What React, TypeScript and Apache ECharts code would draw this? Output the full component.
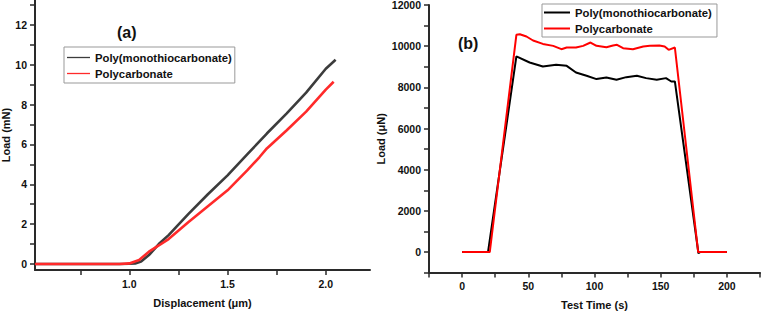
import React, { useEffect, useRef } from "react";
import * as echarts from "echarts";

// Panel (a): load–displacement curves, [displacement µm, load mN]
const dispPMTC: [number, number][] = [
  [0.52, 0], [0.95, 0], [1.0, 0.01], [1.03, 0.03], [1.06, 0.12], [1.1, 0.45],
  [1.15, 1.0], [1.2, 1.45], [1.3, 2.5], [1.4, 3.5], [1.5, 4.45], [1.6, 5.5],
  [1.7, 6.55], [1.8, 7.55], [1.9, 8.6], [2.0, 9.8], [2.05, 10.25],
];
const dispPC: [number, number][] = [
  [0.52, 0], [0.95, 0], [1.0, 0.03], [1.05, 0.2], [1.1, 0.62], [1.15, 0.93],
  [1.2, 1.25], [1.3, 2.1], [1.4, 2.9], [1.5, 3.7], [1.6, 4.7], [1.663, 5.37],
  [1.7, 5.8], [1.8, 6.7], [1.9, 7.65], [2.0, 8.75], [2.04, 9.15],
];

// Panel (b): load–time curves, [time s, load µN]
const timePMTC: [number, number][] = [
  [0, 0], [19.6, 0], [41, 9500], [51, 9207], [61, 9013], [71, 9094], [79, 9045],
  [86, 8720], [94, 8560], [101.5, 8400], [109, 8480], [116.6, 8365], [124, 8495],
  [132, 8560], [139, 8447], [147, 8365], [154, 8447], [158, 8285], [160.7, 8285],
  [178.5, -60], [180, 0], [200, 0],
];
const timePC: [number, number][] = [
  [0, 0], [20.9, 0], [41, 10550], [43.6, 10580], [48.6, 10470], [53.6, 10275],
  [61, 10110], [68.8, 10015], [75, 9854], [79, 9935], [86, 9935], [91.4, 10015],
  [97, 10178], [101.5, 10015], [109, 9951], [114, 10032], [117, 10065],
  [121.6, 9903], [129, 9854], [136.8, 9984], [141.8, 10015], [149, 10032],
  [153, 9984], [156, 9822], [160.7, 9935], [178.3, 0], [200, 0],
];

// Labelled tick values
const dispLabels = [1.0, 1.5, 2.0];
const loadMNLabels = [0, 2, 4, 6, 8, 10, 12];
const timeLabels = [0, 50, 100, 150, 200];
const loadUNLabels = [0, 2000, 4000, 6000, 8000, 10000, 12000];

const nameA = "Poly(monothiocarbonate)";
const nameB = "Polycarbonate";

const FONT = "'Liberation Sans', Arial, sans-serif";
const AXIS_COLOR = "#2a2a2a";
const TEXT_COLOR = "#111";

// panel (a) scale: pixels per unit on each axis
const PX_PER_UM = 196;
const PX_PER_MN = 19.92;
const A_LEFT = 35;
const A_ZERO_Y = 264;
const A_X1 = 130; // pixel column of 1.0 µm

const near = (list: number[], v: number) => list.some((x) => Math.abs(x - v) < 1e-6);

const tickStyle = { show: true, length: 5, lineStyle: { color: AXIS_COLOR, width: 1.5 } };

function axisBase() {
  return {
    axisLine: { show: true, onZero: false, lineStyle: { color: AXIS_COLOR, width: 2 } },
    splitLine: { show: false },
    axisTick: tickStyle,
    nameTextStyle: { fontFamily: FONT, fontWeight: "bold", fontSize: 11, color: TEXT_COLOR },
  };
}

// an axis that only draws its ticks (panel (a) scales start off-tick)
function tickOnlyAxis(gridIndex: number, min: number, max: number, interval: number) {
  return {
    gridIndex,
    type: "value",
    min,
    max,
    interval,
    axisLine: { show: false, onZero: false },
    axisLabel: { show: false },
    splitLine: { show: false },
    axisTick: tickStyle,
  };
}

function hiddenAxis(gridIndex: number) {
  return { gridIndex, type: "value", show: false, min: 0, max: 1 };
}

export default function App() {
  const ref = useRef<HTMLDivElement>(null);

  useEffect(() => {
    document.body.style.margin = "0";
    if (!ref.current) return;
    const chart = echarts.init(ref.current, undefined, { renderer: "svg" });

    const labelStyle = {
      fontFamily: FONT,
      fontWeight: "bold" as const,
      fontSize: 10.5,
      color: TEXT_COLOR,
      margin: 8,
    };
    const legendText = {
      fontFamily: FONT,
      fontWeight: "bold" as const,
      fontSize: 11.3,
      lineHeight: 10,
      color: TEXT_COLOR,
    };
    const fixedGrid = { outerBoundsMode: "none", containLabel: false };

    chart.setOption({
      animation: false,
      backgroundColor: "#fff",
      grid: [
        { ...fixedGrid, left: A_LEFT, top: 0, width: 335, height: 270 },
        { ...fixedGrid, left: 429, top: 5, width: 331, height: 267.6 },
        // tick helper for panel (a) y axis: 0..13 mN
        { ...fixedGrid, left: A_LEFT, top: A_ZERO_Y - 13 * PX_PER_MN, width: 335, height: 13 * PX_PER_MN },
        // tick helper for panel (a) x axis: 0.75..2.0 µm
        { ...fixedGrid, left: A_X1 - 0.25 * PX_PER_UM, top: 0, width: 1.25 * PX_PER_UM, height: 270 },
      ],
      legend: [
        {
          orient: "vertical",
          left: 64,
          top: 47,
          data: [nameA, nameB],
          icon: "rect",
          padding: [5, 3, 4, 3],
          itemGap: 5,
          itemWidth: 23,
          itemHeight: 1.3,
          borderColor: "#999",
          borderWidth: 1,
          textStyle: legendText,
          selectedMode: false,
        },
        {
          orient: "vertical",
          left: 542,
          top: 4,
          data: [nameA + " ", nameB + " "],
          icon: "rect",
          padding: [3, 2, 3, 2],
          itemGap: 5,
          itemWidth: 26,
          itemHeight: 2,
          borderColor: "#999",
          borderWidth: 1,
          textStyle: legendText,
          selectedMode: false,
        },
      ],
      xAxis: [
        {
          ...axisBase(),
          gridIndex: 0,
          type: "value",
          min: 0.52,
          max: 2.225,
          name: "Displacement (\u03bcm)",
          nameLocation: "middle",
          nameGap: 27,
          axisTick: { show: false },
          axisLabel: { ...labelStyle, customValues: dispLabels, formatter: (v: number) => v.toFixed(1) },
        },
        {
          ...axisBase(),
          gridIndex: 1,
          type: "value",
          min: -25,
          max: 225,
          interval: 25,
          name: "Test Time (s)",
          nameLocation: "middle",
          nameGap: 27,
          axisLabel: {
            ...labelStyle,
            formatter: (v: number) => (near(timeLabels, v) ? String(v) : ""),
          },
        },
        hiddenAxis(2),
        tickOnlyAxis(3, 0.75, 2.0, 0.25),
      ],
      yAxis: [
        {
          ...axisBase(),
          gridIndex: 0,
          type: "value",
          min: -(270 - A_ZERO_Y) / PX_PER_MN,
          max: A_ZERO_Y / PX_PER_MN,
          name: "Load (mN)",
          nameLocation: "middle",
          nameGap: 23,
          axisTick: { show: false },
          axisLabel: { ...labelStyle, customValues: loadMNLabels, formatter: (v: number) => String(v) },
        },
        {
          ...axisBase(),
          gridIndex: 1,
          type: "value",
          min: -1000,
          max: 12000,
          interval: 1000,
          name: "Load (\u03bcN)",
          nameLocation: "middle",
          nameGap: 43,
          axisLabel: {
            ...labelStyle,
            formatter: (v: number) => (near(loadUNLabels, v) ? String(v) : ""),
          },
        },
        tickOnlyAxis(2, 0, 13, 1),
        hiddenAxis(3),
      ],
      graphic: [
        {
          type: "text",
          left: 117,
          top: 24,
          style: { text: "(a)", font: `bold 16px ${FONT}`, fill: TEXT_COLOR },
        },
        {
          type: "text",
          left: 458,
          top: 35,
          style: { text: "(b)", font: `bold 16px ${FONT}`, fill: TEXT_COLOR },
        },
      ],
      series: [
        {
          name: nameA,
          type: "line",
          xAxisIndex: 0,
          yAxisIndex: 0,
          data: dispPMTC,
          showSymbol: false,
          symbol: "none",
          lineStyle: { color: "#3c3c3c", width: 2.6 },
          itemStyle: { color: "#3c3c3c" },
        },
        {
          name: nameB,
          type: "line",
          xAxisIndex: 0,
          yAxisIndex: 0,
          data: dispPC,
          showSymbol: false,
          symbol: "none",
          lineStyle: { color: "#ff2a2a", width: 2.6 },
          itemStyle: { color: "#ff2a2a" },
        },
        {
          name: nameA + " ",
          type: "line",
          xAxisIndex: 1,
          yAxisIndex: 1,
          data: timePMTC,
          showSymbol: false,
          symbol: "none",
          lineStyle: { color: "#000", width: 2 },
          itemStyle: { color: "#000" },
        },
        {
          name: nameB + " ",
          type: "line",
          xAxisIndex: 1,
          yAxisIndex: 1,
          data: timePC,
          showSymbol: false,
          symbol: "none",
          lineStyle: { color: "#ff0000", width: 2 },
          itemStyle: { color: "#ff0000" },
        },
      ],
    });

    return () => chart.dispose();
  }, []);

  return <div ref={ref} style={{ width: 761, height: 313 }} />;
}
